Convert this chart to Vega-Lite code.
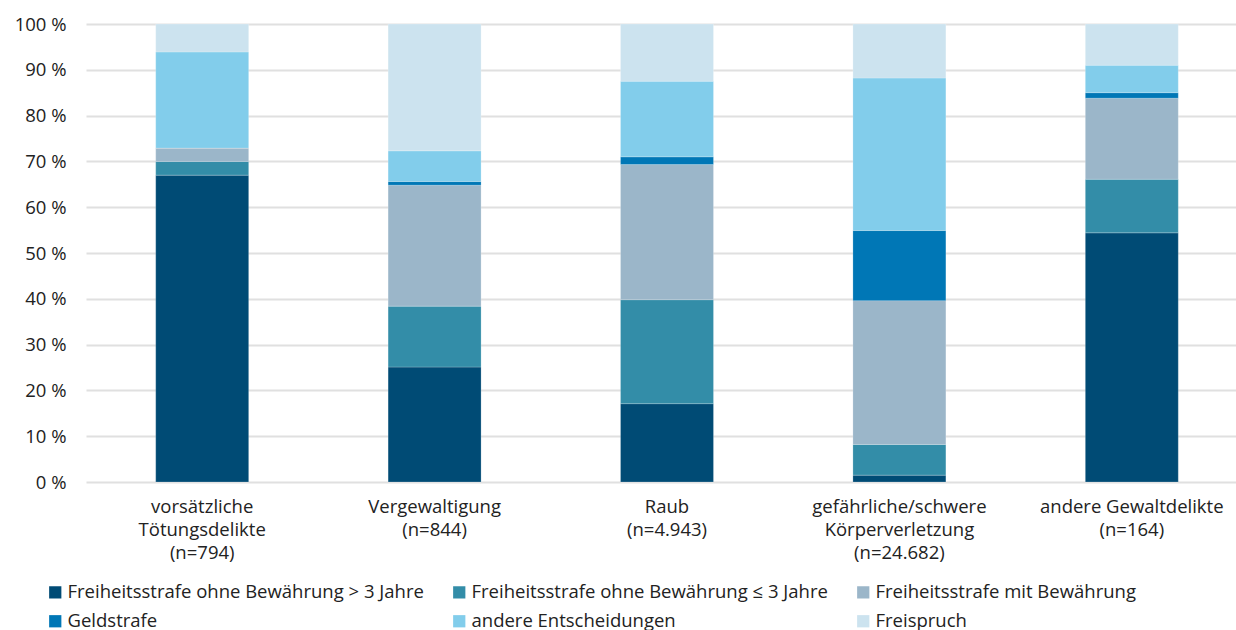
{
  "$schema": "https://vega.github.io/schema/vega-lite/v6.json",
  "autosize": "none",
  "width": 1162,
  "height": 458,
  "padding": {"left": 86, "top": 24, "right": 0, "bottom": 148},
  "background": "white",
  "config": {
    "font": "Open Sans",
    "view": {"stroke": null},
    "axis": {"labelFont": "Open Sans", "labelFontSize": 18.5, "labelColor": "#222222"}
  },
  "data": {
    "values": [
      {"cat": "vorsätzliche|Tötungsdelikte|(n=794)", "typ": "Freiheitsstrafe ohne Bewährung > 3 Jahre", "ord": 1, "val": 67.0},
      {"cat": "vorsätzliche|Tötungsdelikte|(n=794)", "typ": "Freiheitsstrafe ohne Bewährung ≤ 3 Jahre", "ord": 2, "val": 3.0},
      {"cat": "vorsätzliche|Tötungsdelikte|(n=794)", "typ": "Freiheitsstrafe mit Bewährung", "ord": 3, "val": 2.9},
      {"cat": "vorsätzliche|Tötungsdelikte|(n=794)", "typ": "Geldstrafe", "ord": 4, "val": 0.0},
      {"cat": "vorsätzliche|Tötungsdelikte|(n=794)", "typ": "andere Entscheidungen", "ord": 5, "val": 21.0},
      {"cat": "vorsätzliche|Tötungsdelikte|(n=794)", "typ": "Freispruch", "ord": 6, "val": 6.1},
      {"cat": "Vergewaltigung|(n=844)", "typ": "Freiheitsstrafe ohne Bewährung > 3 Jahre", "ord": 1, "val": 25.1},
      {"cat": "Vergewaltigung|(n=844)", "typ": "Freiheitsstrafe ohne Bewährung ≤ 3 Jahre", "ord": 2, "val": 13.3},
      {"cat": "Vergewaltigung|(n=844)", "typ": "Freiheitsstrafe mit Bewährung", "ord": 3, "val": 26.4},
      {"cat": "Vergewaltigung|(n=844)", "typ": "Geldstrafe", "ord": 4, "val": 0.8},
      {"cat": "Vergewaltigung|(n=844)", "typ": "andere Entscheidungen", "ord": 5, "val": 6.7},
      {"cat": "Vergewaltigung|(n=844)", "typ": "Freispruch", "ord": 6, "val": 27.7},
      {"cat": "Raub|(n=4.943)", "typ": "Freiheitsstrafe ohne Bewährung > 3 Jahre", "ord": 1, "val": 17.1},
      {"cat": "Raub|(n=4.943)", "typ": "Freiheitsstrafe ohne Bewährung ≤ 3 Jahre", "ord": 2, "val": 22.7},
      {"cat": "Raub|(n=4.943)", "typ": "Freiheitsstrafe mit Bewährung", "ord": 3, "val": 29.5},
      {"cat": "Raub|(n=4.943)", "typ": "Geldstrafe", "ord": 4, "val": 1.7},
      {"cat": "Raub|(n=4.943)", "typ": "andere Entscheidungen", "ord": 5, "val": 16.5},
      {"cat": "Raub|(n=4.943)", "typ": "Freispruch", "ord": 6, "val": 12.5},
      {"cat": "gefährliche/schwere|Körperverletzung|(n=24.682)", "typ": "Freiheitsstrafe ohne Bewährung > 3 Jahre", "ord": 1, "val": 1.5},
      {"cat": "gefährliche/schwere|Körperverletzung|(n=24.682)", "typ": "Freiheitsstrafe ohne Bewährung ≤ 3 Jahre", "ord": 2, "val": 6.7},
      {"cat": "gefährliche/schwere|Körperverletzung|(n=24.682)", "typ": "Freiheitsstrafe mit Bewährung", "ord": 3, "val": 31.4},
      {"cat": "gefährliche/schwere|Körperverletzung|(n=24.682)", "typ": "Geldstrafe", "ord": 4, "val": 15.3},
      {"cat": "gefährliche/schwere|Körperverletzung|(n=24.682)", "typ": "andere Entscheidungen", "ord": 5, "val": 33.3},
      {"cat": "gefährliche/schwere|Körperverletzung|(n=24.682)", "typ": "Freispruch", "ord": 6, "val": 11.8},
      {"cat": "andere Gewaltdelikte|(n=164)", "typ": "Freiheitsstrafe ohne Bewährung > 3 Jahre", "ord": 1, "val": 54.4},
      {"cat": "andere Gewaltdelikte|(n=164)", "typ": "Freiheitsstrafe ohne Bewährung ≤ 3 Jahre", "ord": 2, "val": 11.7},
      {"cat": "andere Gewaltdelikte|(n=164)", "typ": "Freiheitsstrafe mit Bewährung", "ord": 3, "val": 17.7},
      {"cat": "andere Gewaltdelikte|(n=164)", "typ": "Geldstrafe", "ord": 4, "val": 1.2},
      {"cat": "andere Gewaltdelikte|(n=164)", "typ": "andere Entscheidungen", "ord": 5, "val": 6.0},
      {"cat": "andere Gewaltdelikte|(n=164)", "typ": "Freispruch", "ord": 6, "val": 9.0}
    ]
  },
  "mark": {"type": "bar", "stroke": "white", "strokeWidth": 0.5, "strokeOpacity": 0.4},
  "encoding": {
    "x": {
      "field": "cat", "type": "nominal", "sort": null,
      "scale": {"paddingInner": 0.6, "paddingOuter": 0.3},
      "axis": {
        "title": null, "labelAngle": 0, "domain": false, "ticks": false,
        "labelPadding": 15, "labelLineHeight": 23, "labelLimit": 300,
        "labelExpr": "split(datum.label, '|')", "labelBaseline": "top"
      }
    },
    "y": {
      "field": "val", "type": "quantitative", "stack": "zero",
      "scale": {"domain": [0, 100], "nice": false},
      "axis": {
        "title": null, "values": [0, 10, 20, 30, 40, 50, 60, 70, 80, 90, 100],
        "labelExpr": "datum.value + ' %'", "domain": false, "ticks": false,
        "labelPadding": 20, "grid": true, "gridColor": "#e0e0e0", "gridWidth": 2
      }
    },
    "order": {"field": "ord", "type": "quantitative", "sort": "ascending"},
    "color": {
      "field": "typ", "type": "nominal",
      "scale": {
        "domain": ["Freiheitsstrafe ohne Bewährung > 3 Jahre", "Freiheitsstrafe ohne Bewährung ≤ 3 Jahre", "Freiheitsstrafe mit Bewährung", "Geldstrafe", "andere Entscheidungen", "Freispruch"],
        "range": ["#004B75", "#338DA8", "#9BB6C9", "#0077B6", "#82CDEB", "#CCE3EF"]
      },
      "legend": {
        "title": null, "orient": "none", "legendX": -40, "legendY": 559,
        "direction": "horizontal", "columns": 3, "columnPadding": 26, "rowPadding": 10,
        "symbolType": "square", "symbolSize": 150, "symbolStrokeWidth": 0,
        "labelFont": "Open Sans", "labelFontSize": 18.5, "labelColor": "#222222",
        "labelOffset": 3, "labelLimit": 500
      }
    }
  }
}
